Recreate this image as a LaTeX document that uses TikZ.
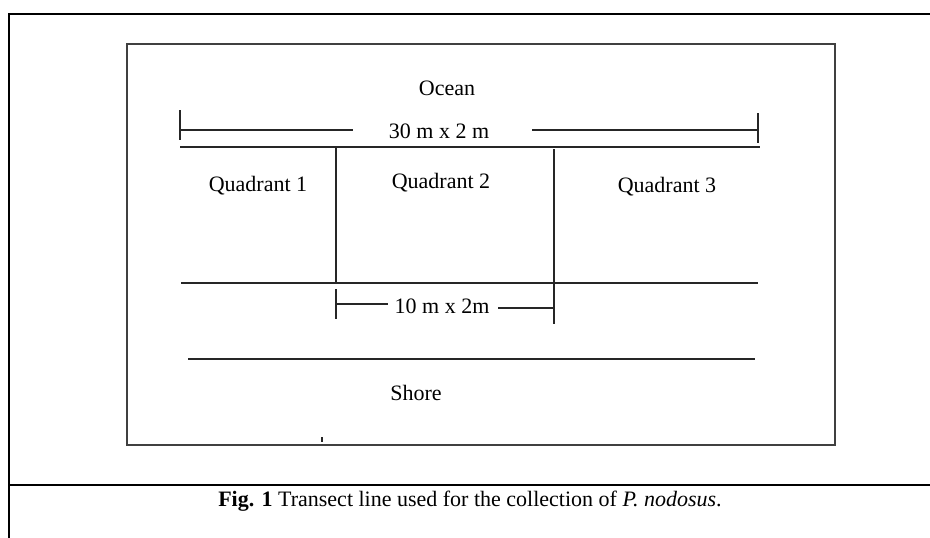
\documentclass[tikz,border=0pt]{standalone}
\usepackage{fontspec}
\setmainfont{Liberation Serif}
\usetikzlibrary{calc}

\begin{document}
\begin{tikzpicture}[x=1pt, y=-1pt, every node/.style={inner sep=0pt, font=\fontsize{22}{26}\selectfont},
    frame/.style={line width=2.4pt, black},
    box/.style={line width=1.6pt, black!75},
    rule/.style={line width=1.2pt, black!85}]
        \useasboundingbox (0,0) rectangle (930,538);

        % outer frame and caption divider
        \coordinate (F1) at (9,538);
        \coordinate (F2) at (9,14);
        \coordinate (F3) at (930,14);
        \coordinate (D1) at (9,485);
        \coordinate (D2) at (930,485);
        \draw[frame] (F1) -- (F2) -- (F3);
        \draw[frame] (D1) -- (D2);

        % inner box
        \coordinate (B1) at (127,44);
        \coordinate (B2) at (835,445);
        \draw[box] (B1) rectangle (B2);

        % labels
        \node (ocean) at (447,88) {Ocean};
        \node (big) at (439,131) {30 m x 2 m};
        \node (Q1) at (258,186) {Quadrant 1};
        \node (Q2) at (441,183) {Quadrant 2};
        \node (Q3) at (667,187) {Quadrant 3};
        \node (small) at (442,306) {10 m x 2m};
        \node (shore) at (416,393) {Shore};
        \node (cap) at (470,501) {\textbf{Fig. 1} Transect line used for the collection of \textit{P. nodosus}.};

        % 30 m dimension
        \coordinate (T1) at (180,110);
        \coordinate (T2) at (180,140);
        \coordinate (T3) at (758,113);
        \coordinate (T4) at (758,143);
        \coordinate (L1) at (180,130);
        \coordinate (L2) at (353,130);
        \coordinate (L3) at (532,130);
        \coordinate (L4) at (758,130);
        \draw[rule] (T1) -- (T2);
        \draw[rule] (T3) -- (T4);
        \draw[rule] (L1) -- (L2);
        \draw[rule] (L3) -- (L4);

        % transect lines
        \coordinate (R1) at (180,147);
        \coordinate (R2) at (760,147);
        \coordinate (R3) at (181,283);
        \coordinate (R4) at (758,283);
        \coordinate (R5) at (188,359);
        \coordinate (R6) at (755,359);
        \draw[rule] (R1) -- (R2);
        \draw[rule] (R3) -- (R4);
        \draw[rule] (R5) -- (R6);

        % quadrant borders
        \coordinate (V1) at (336,147);
        \coordinate (V2) at (336,283);
        \coordinate (V3) at (554,149);
        \coordinate (V4) at (554,324);
        \draw[rule] (V1) -- (V2);
        \draw[rule] (V3) -- (V4);

        % 10 m dimension
        \coordinate (S1) at (336,289);
        \coordinate (S2) at (336,319);
        \coordinate (S3) at (336,304);
        \coordinate (S4) at (388,304);
        \coordinate (S5) at (498,308);
        \coordinate (S6) at (554,308);
        \draw[rule] (S1) -- (S2);
        \draw[rule] (S3) -- (S4);
        \draw[rule] (S5) -- (S6);

        % stray mark
        \coordinate (M1) at (322,437);
        \coordinate (M2) at (322,442);
        \draw[rule] (M1) -- (M2);
    \end{tikzpicture}
\end{document}
